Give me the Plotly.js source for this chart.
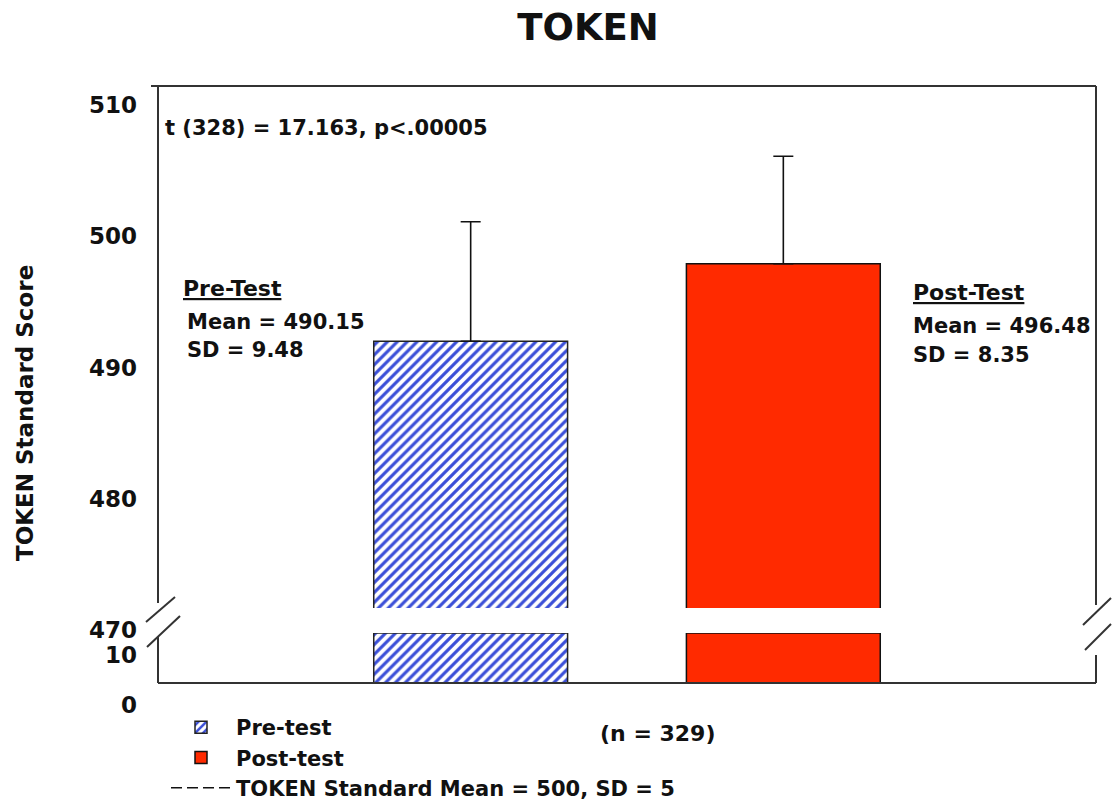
<!DOCTYPE html>
<html>
<head>
<meta charset="utf-8">
<script src="https://cdn.plot.ly/plotly-3.0.1.min.js"></script>
<style>html,body{margin:0;padding:0;background:#fff}#chart{width:1112px;height:804px}</style>
</head>
<body>
<div id="chart"></div>
<script>
// ---- data ----
const categories = ['Pre-test', 'Post-test'];
const barTops = [492.0, 497.9];          // bar heights as drawn on the upper (470–510) segment
const sdUp = [9.1, 8.2];                 // upward error bars as drawn
const lowerSegment = [10, 10];           // lower (0–10) segment, filled to the break
const upperTicks = [470, 480, 490, 500, 510];
const lowerTicks = [0, 10];
const statsText = 't (328) = 17.163, p<.00005';
const preLabel = ['Pre-Test', 'Mean = 490.15', 'SD = 9.48'];
const postLabel = ['Post-Test', 'Mean = 496.48', 'SD = 8.35'];
const nText = '(n = 329)';
const meanLineName = 'TOKEN Standard Mean = 500, SD = 5';
const yTitle = 'TOKEN Standard Score';

// ---- geometry helpers (pixel -> paper) ----
const W = 1112, H = 804;
const L = 158, R = 1096, T = 86, B = 683;
const px = x => (x - L) / (R - L);
const py = y => (B - y) / (B - T);

const FONT = 'DejaVu Sans, Verdana, sans-serif';
const preStyle = {
  color: '#ffffff',
  line: {color: '#222', width: 1.5},
  pattern: {shape: '/', fgcolor: '#3b4fd8', bgcolor: '#ffffff', size: 7, solidity: 0.45}
};
const postStyle = {color: '#ff2a00', line: {color: '#111', width: 1.5}};

const traces = [
  {type: 'bar', x: [categories[0]], y: [barTops[0]], yaxis: 'y2', name: 'Pre-test', legendgroup: 'pre',
   width: 0.62, marker: preStyle,
   error_y: {type: 'data', symmetric: false, array: [sdUp[0]], arrayminus: [0], color: '#111', thickness: 1.6, width: 10}},
  {type: 'bar', x: [categories[1]], y: [barTops[1]], yaxis: 'y2', name: 'Post-test', legendgroup: 'post',
   width: 0.62, marker: postStyle,
   error_y: {type: 'data', symmetric: false, array: [sdUp[1]], arrayminus: [0], color: '#111', thickness: 1.6, width: 10}},
  {type: 'bar', x: [categories[0]], y: [lowerSegment[0]], yaxis: 'y', name: 'Pre-test', legendgroup: 'pre',
   showlegend: false, width: 0.62, marker: preStyle},
  {type: 'bar', x: [categories[1]], y: [lowerSegment[1]], yaxis: 'y', name: 'Post-test', legendgroup: 'post',
   showlegend: false, width: 0.62, marker: postStyle},
  // legend-only entry (the reference lists it but draws no line in the plot)
  {type: 'scatter', mode: 'lines', x: [categories[0]], y: [null], yaxis: 'y2', name: meanLineName,
   line: {color: '#111', width: 1.5, dash: '11px,5px'}}
];

const lineStyle = {color: '#333', width: 2};
const shapes = [
  // white band cutting the bars at the axis break
  {type: 'rect', xref: 'paper', yref: 'paper', x0: px(L + 1), x1: px(R - 1), y0: py(633), y1: py(608),
   fillcolor: '#ffffff', line: {width: 0}, layer: 'above'},
  // frame
  {type: 'line', xref: 'paper', yref: 'paper', x0: px(151), x1: px(R), y0: py(T), y1: py(T), line: lineStyle},
  {type: 'line', xref: 'paper', yref: 'paper', x0: px(L), x1: px(R), y0: py(B), y1: py(B), line: lineStyle},
  {type: 'line', xref: 'paper', yref: 'paper', x0: px(L), x1: px(L), y0: py(T), y1: py(603), line: lineStyle},
  {type: 'line', xref: 'paper', yref: 'paper', x0: px(L), x1: px(L), y0: py(637), y1: py(B), line: lineStyle},
  {type: 'line', xref: 'paper', yref: 'paper', x0: px(R), x1: px(R), y0: py(T), y1: py(605), line: lineStyle},
  {type: 'line', xref: 'paper', yref: 'paper', x0: px(R), x1: px(R), y0: py(655), y1: py(B), line: lineStyle},
  // break marks
  {type: 'line', xref: 'paper', yref: 'paper', x0: px(146), x1: px(175), y0: py(622), y1: py(597), line: lineStyle},
  {type: 'line', xref: 'paper', yref: 'paper', x0: px(147), x1: px(180), y0: py(647), y1: py(616), line: lineStyle},
  {type: 'line', xref: 'paper', yref: 'paper', x0: px(1083), x1: px(1111), y0: py(625), y1: py(598), line: lineStyle},
  {type: 'line', xref: 'paper', yref: 'paper', x0: px(1085), x1: px(1111), y0: py(650), y1: py(624), line: lineStyle}
];

const tf = {family: FONT, size: 21, color: '#111'};
const ann = (text, x, y, extra) => Object.assign({
  text: text, xref: 'paper', yref: 'paper', x: px(x), y: py(y), xanchor: 'left', yanchor: 'middle',
  showarrow: false, font: tf
}, extra || {});

const annotations = [
  ann('<b>' + statsText + '</b>', 163, 128, {font: Object.assign({}, tf, {size: 21})}),
  ann('<b><u>' + preLabel[0] + '</u></b>', 181, 288, {font: Object.assign({}, tf, {size: 22})}),
  ann('<b>' + preLabel[1] + '</b>', 185, 322),
  ann('<b>' + preLabel[2] + '</b>', 185, 350),
  ann('<b><u>' + postLabel[0] + '</u></b>', 911, 292, {font: Object.assign({}, tf, {size: 22})}),
  ann('<b>' + postLabel[1] + '</b>', 911, 326),
  ann('<b>' + postLabel[2] + '</b>', 911, 355),
  ann('<b>' + nText + '</b>', 598, 733, {font: Object.assign({}, tf, {size: 22})}),
  ann('<b>' + yTitle + '</b>', 25, 413, {xanchor: 'center', textangle: -90,
      font: Object.assign({}, tf, {size: 23})})
];

const layout = {
  width: W, height: H,
  paper_bgcolor: '#fff', plot_bgcolor: '#fff',
  margin: {l: L, r: W - R, t: T, b: H - B, pad: 0, autoexpand: false},
  title: {text: '<b>TOKEN</b>', x: 588 / W, xref: 'container', xanchor: 'center',
          y: 1 - 27 / H, yref: 'container', yanchor: 'middle',
          font: {family: FONT, size: 37, color: '#111'}},
  showlegend: true,
  legend: {x: px(166), y: py(707), xanchor: 'left', yanchor: 'top', orientation: 'v',
           font: {family: FONT, size: 21, color: '#111', weight: 'bold'}, itemwidth: 60,
           bgcolor: 'rgba(0,0,0,0)', tracegroupgap: 0, traceorder: 'normal'},
  bargap: 0,
  xaxis: {type: 'category', range: [-1, 2], showticklabels: false, showgrid: false, zeroline: false,
          showline: false, ticks: '', fixedrange: true},
  yaxis: {domain: [0, py(633)], range: [0, 10], tickvals: lowerTicks, ticktext: lowerTicks.map(String),
          showgrid: false, zeroline: false, showline: false, ticks: '', ticklabelstandoff: 20,
          ticklabelshift: 22,
          tickfont: {family: FONT, size: 23, color: '#111', weight: 'bold'}},
  yaxis2: {domain: [py(630), 1], range: [470, 470 + (630 - T) / 13.125], tickvals: upperTicks,
           ticktext: upperTicks.map(String), anchor: 'x',
           showgrid: false, zeroline: false, showline: false, ticks: '', ticklabelstandoff: 20,
           tickfont: {family: FONT, size: 23, color: '#111', weight: 'bold'}},
  shapes: shapes,
  annotations: annotations
};

Plotly.newPlot('chart', traces, layout, {displayModeBar: false, staticPlot: true});
</script>
</body>
</html>
